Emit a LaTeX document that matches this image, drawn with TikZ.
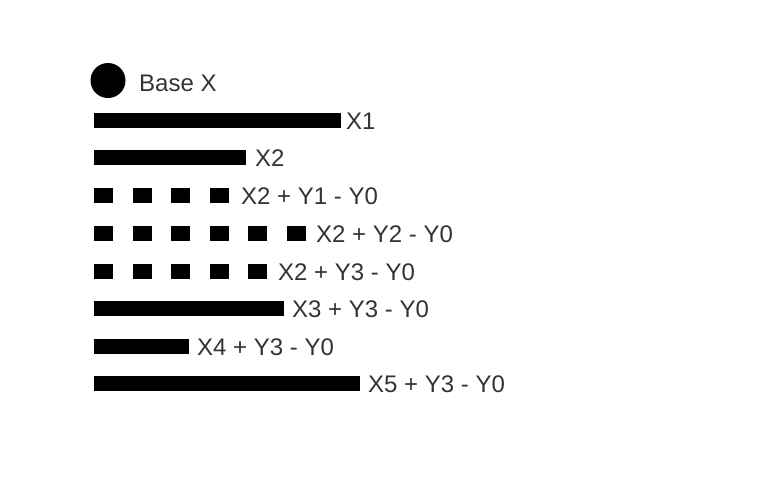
\documentclass[tikz,border=0pt]{standalone}
\usepackage{fontspec}
\setmainfont{Liberation Sans}
\definecolor{labelgray}{HTML}{333333}

\begin{document}
\begin{tikzpicture}[x=1pt,y=-1pt,
  lbl/.style={anchor=base west,inner sep=0pt,text=labelgray,font=\fontsize{24}{28}\selectfont}]
\useasboundingbox (0,0) rectangle (775,491);

 \fill[black] (108,80.5) circle (17.5);
 \node[lbl] at (139,91) (base) {Base X};

 \fill[black] (94,112.5) rectangle (341,127.5);
 \node[lbl] at (346,129) (xa) {X1};
 \fill[black] (94,149.5) rectangle (246,164.5);
 \node[lbl] at (255,166) (xb) {X2};

 \foreach \i in {0,...,3} \fill[black] (94+38.5*\i,187.5) rectangle ++(19,15.5);
 \node[lbl] at (241,204) (ya) {X2 + Y1 - Y0};
 \foreach \i in {0,...,5} \fill[black] (94+38.5*\i,225.5) rectangle ++(19,15.5);
 \node[lbl] at (316,242) (yb) {X2 + Y2 - Y0};
 \foreach \i in {0,...,4} \fill[black] (94+38.5*\i,263.5) rectangle ++(19,15.5);
 \node[lbl] at (278,280) (yc) {X2 + Y3 - Y0};

 \fill[black] (94,300.5) rectangle (284,315.5);
 \node[lbl] at (292,317) (xc) {X3 + Y3 - Y0};
 \fill[black] (94,338.5) rectangle (189,353.5);
 \node[lbl] at (197,355) (xd) {X4 + Y3 - Y0};
 \fill[black] (94,375.5) rectangle (360,390.5);
 \node[lbl] at (368,392) (xe) {X5 + Y3 - Y0};
\end{tikzpicture}
\end{document}
